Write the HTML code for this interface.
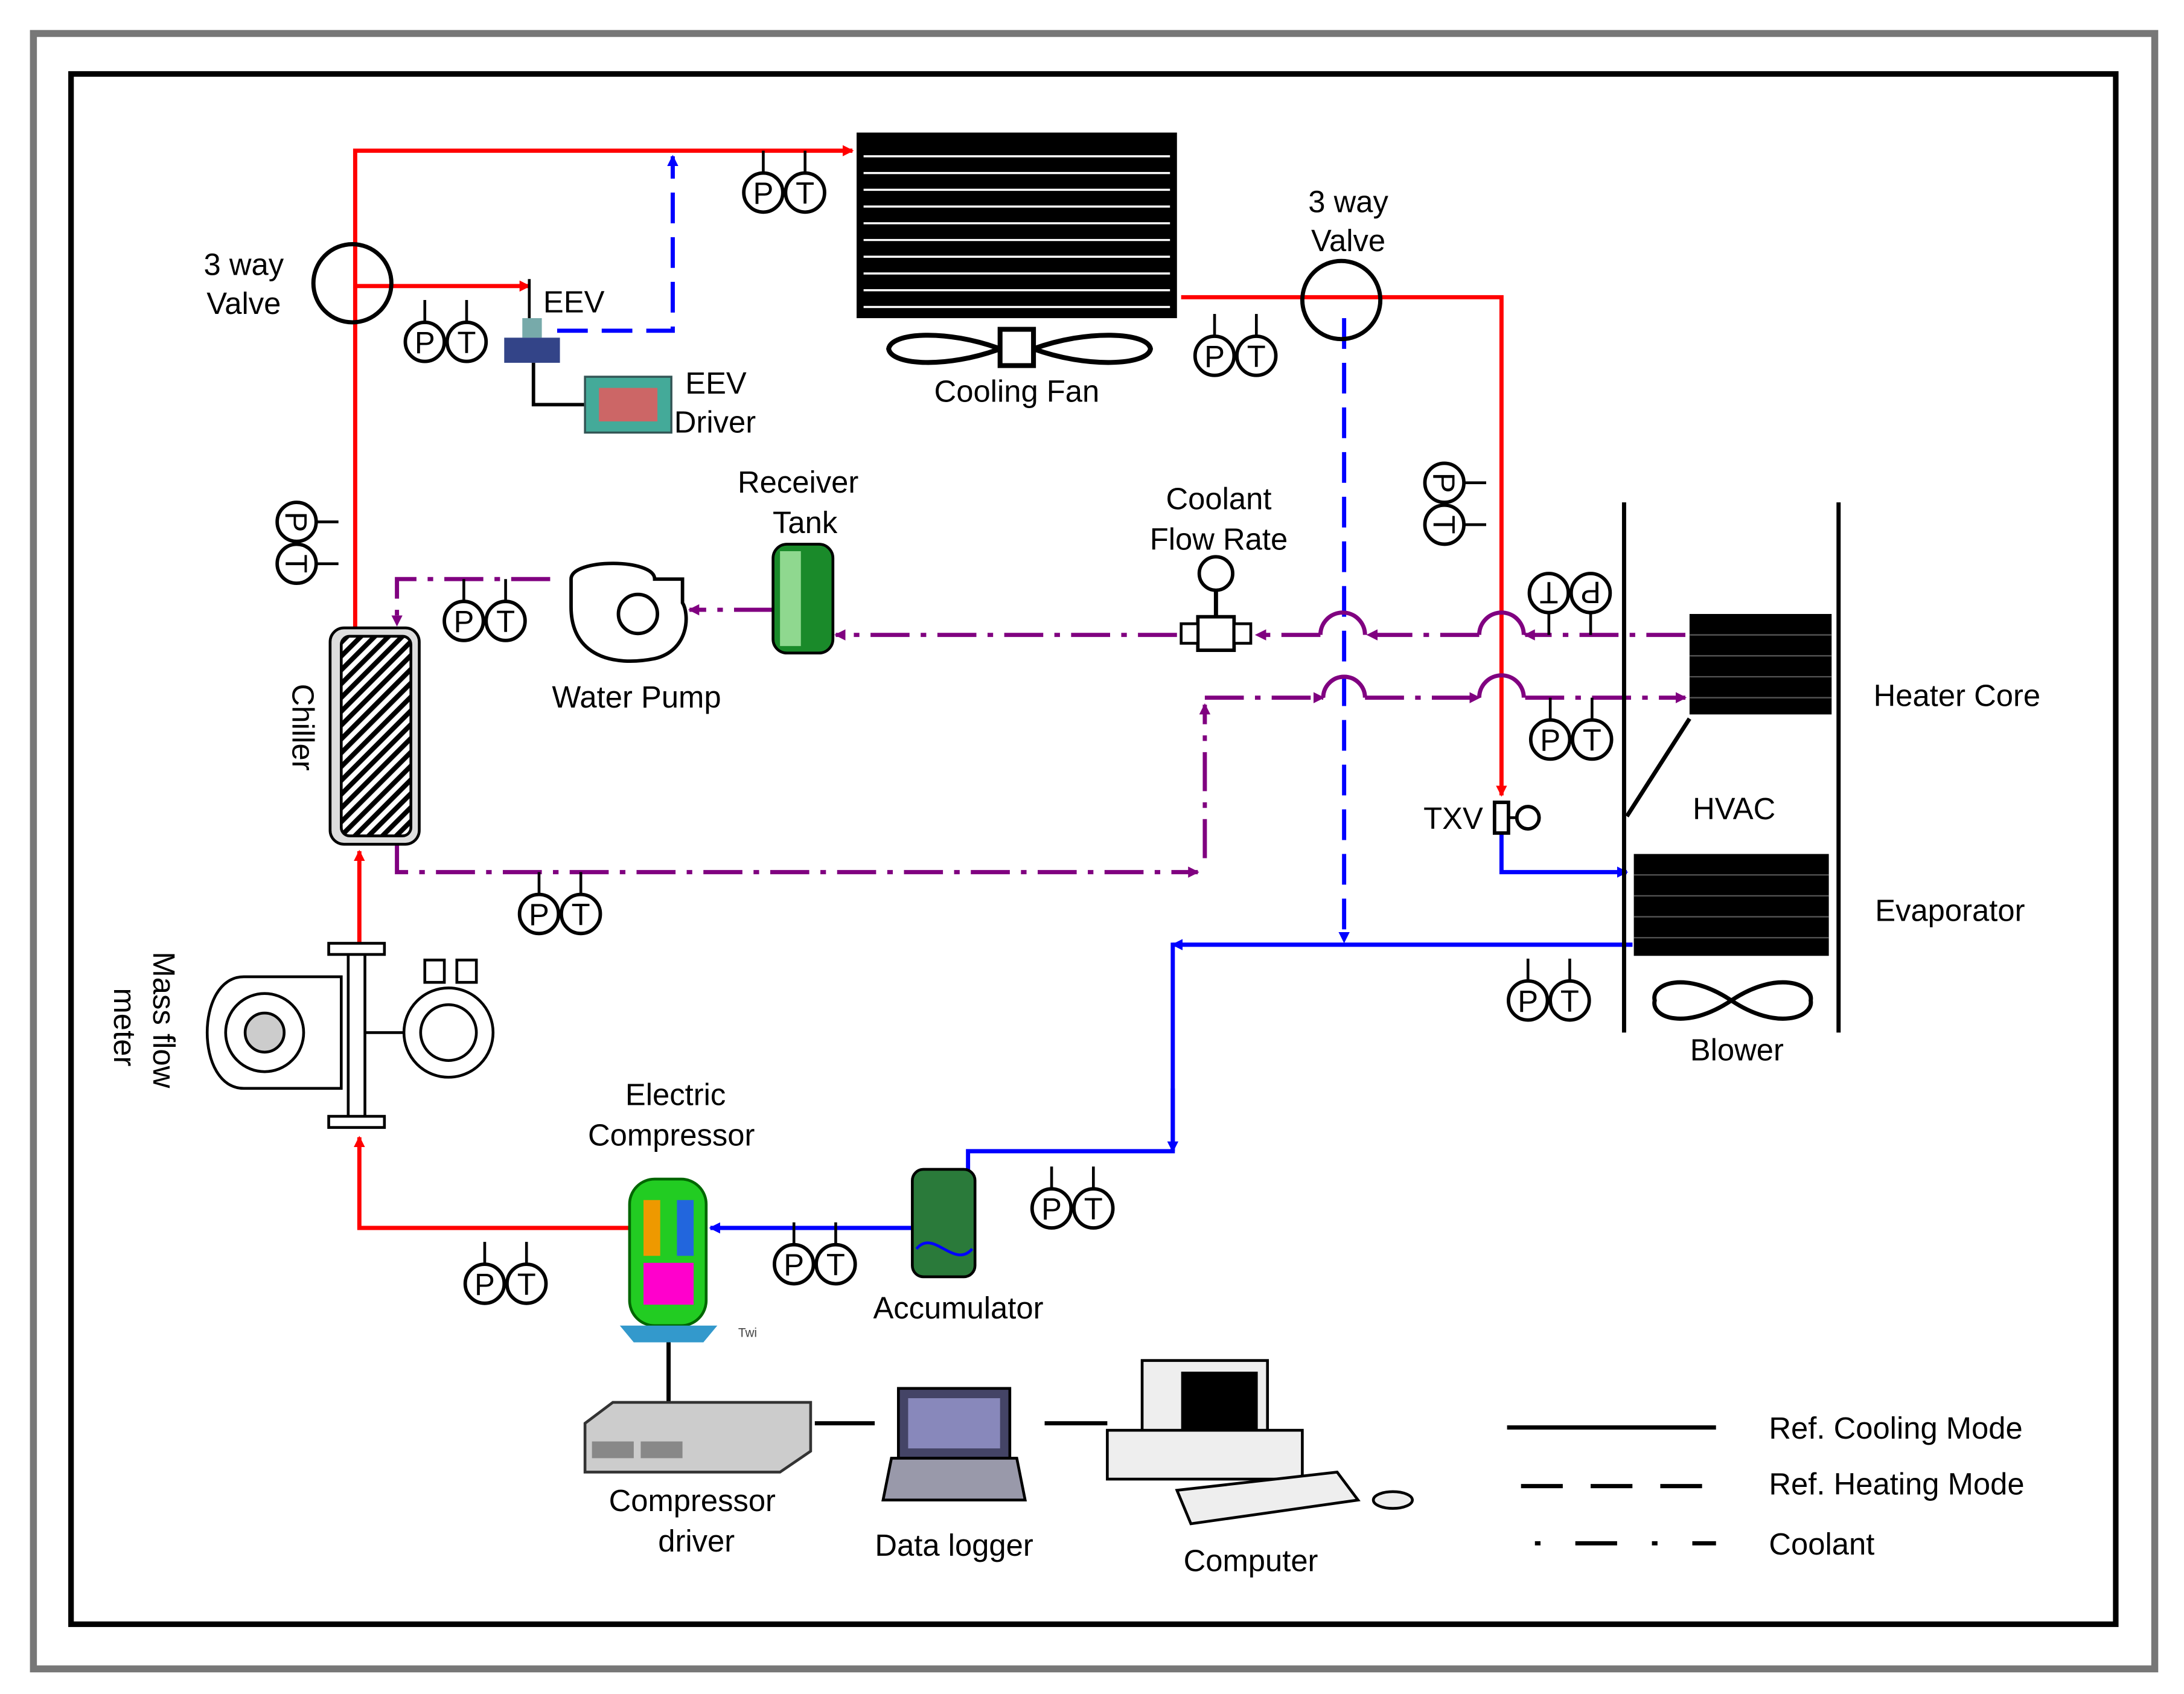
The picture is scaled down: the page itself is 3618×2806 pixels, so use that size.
<!DOCTYPE html>
<html><head><meta charset="utf-8"><style>
html,body{margin:0;padding:0;background:#fff}
svg{display:block}
text{font-family:"Liberation Sans",sans-serif;font-size:22px;fill:#000}
</style></head><body>
<svg width="3618" height="2806" viewBox="0 0 1568 1214" preserveAspectRatio="none" xmlns="http://www.w3.org/2000/svg">
<defs>
<marker id="ar" markerWidth="8" markerHeight="8" refX="7" refY="4" orient="auto" markerUnits="userSpaceOnUse"><path d="M0,0 L8,4 L0,8z" fill="#f00"/></marker>
<marker id="ab" markerWidth="8" markerHeight="8" refX="7" refY="4" orient="auto" markerUnits="userSpaceOnUse"><path d="M0,0 L8,4 L0,8z" fill="#00f"/></marker>
<marker id="ap" markerWidth="8" markerHeight="8" refX="7" refY="4" orient="auto" markerUnits="userSpaceOnUse"><path d="M0,0 L8,4 L0,8z" fill="#800080"/></marker>
<g id="pt">
<line x1="0" y1="-30" x2="0" y2="-14" stroke="#000" stroke-width="2"/>
<line x1="30" y1="-30" x2="30" y2="-14" stroke="#000" stroke-width="2"/>
<circle cx="0" cy="0" r="14" fill="#fff" stroke="#000" stroke-width="2.5"/>
<circle cx="30" cy="0" r="14" fill="#fff" stroke="#000" stroke-width="2.5"/>
<text x="0" y="8" text-anchor="middle">P</text>
<text x="30" y="8" text-anchor="middle">T</text>
</g>
<pattern id="hatch" width="7" height="7" patternUnits="userSpaceOnUse" patternTransform="rotate(45)"><rect width="7" height="7" fill="#fff"/><rect width="3.5" height="7" fill="#000"/></pattern>
</defs>
<rect x="0" y="0" width="1568" height="1214" fill="#fff"/>
<rect x="24" y="24" width="1523" height="1172" fill="none" stroke="#777" stroke-width="5"/>
<rect x="51" y="53" width="1468" height="1111" fill="none" stroke="#000" stroke-width="4"/>

<g stroke="#f00" stroke-width="3" fill="none">
<polyline points="255,450 255,108 612,108" marker-end="url(#ar)"/>
<line x1="255" y1="205" x2="380" y2="205" marker-end="url(#ar)"/>
<polyline points="848,213 1078,213 1078,570" marker-end="url(#ar)"/>
<line x1="258" y1="680" x2="258" y2="610" marker-end="url(#ar)"/>
<polyline points="452,880 258,880 258,815" marker-end="url(#ar)"/>
</g>
<g stroke="#00f" stroke-width="3" fill="none">
<polyline points="1078,598 1078,625 1168,625" marker-end="url(#ab)"/>
<polyline points="1172,677 842,677 842,825 695,825 695,840"/>
<line x1="1172" y1="677" x2="842" y2="677" marker-end="url(#ab)"/>
<line x1="842" y1="780" x2="842" y2="825" marker-end="url(#ab)"/>
<line x1="655" y1="880" x2="510" y2="880" marker-end="url(#ab)"/>
</g>
<g stroke="#00f" stroke-width="3" fill="none" stroke-dasharray="22,10">
<polyline points="400,237 483,237 483,112" marker-end="url(#ab)"/>
<line x1="965" y1="228" x2="965" y2="675" marker-end="url(#ab)"/>
</g>
<g stroke="#800080" stroke-width="3" fill="none" stroke-dasharray="28,8,4,8">
<line x1="1210" y1="455" x2="1095" y2="455" marker-end="url(#ap)"/>
<line x1="1062" y1="455" x2="982" y2="455" marker-end="url(#ap)"/>
<line x1="948" y1="455" x2="902" y2="455" marker-end="url(#ap)"/>
<line x1="845" y1="455" x2="600" y2="455" marker-end="url(#ap)"/>
<line x1="555" y1="437" x2="495" y2="437" marker-end="url(#ap)"/>
<polyline points="395,415 285,415 285,448" marker-end="url(#ap)"/>
<polyline points="285,605 285,625 860,625" marker-end="url(#ap)"/>
<line x1="865" y1="615" x2="865" y2="505" marker-end="url(#ap)"/>
<line x1="865" y1="500" x2="950" y2="500" marker-end="url(#ap)"/>
<line x1="980" y1="500" x2="1062" y2="500" marker-end="url(#ap)"/>
<line x1="1095" y1="500" x2="1210" y2="500" marker-end="url(#ap)"/>
</g>
<g stroke="#800080" stroke-width="3" fill="none">
<path d="M948,455 a16,16 0 0 1 32,0"/><path d="M1062,455 a16,16 0 0 1 32,0"/>
<path d="M950,500 a15,15 0 0 1 30,0"/><path d="M1062,500 a16,16 0 0 1 32,0"/>
</g>

<rect x="615" y="95" width="230" height="133" fill="#000"/>
<g stroke="#fff" stroke-width="1.5">
<line x1="620" y1="112" x2="840" y2="112"/><line x1="620" y1="124" x2="840" y2="124"/><line x1="620" y1="136" x2="840" y2="136"/><line x1="620" y1="148" x2="840" y2="148"/><line x1="620" y1="160" x2="840" y2="160"/><line x1="620" y1="172" x2="840" y2="172"/><line x1="620" y1="184" x2="840" y2="184"/><line x1="620" y1="196" x2="840" y2="196"/><line x1="620" y1="208" x2="840" y2="208"/><line x1="620" y1="220" x2="840" y2="220"/>
</g>
<g fill="#fff" stroke="#000" stroke-width="3.5">
<path d="M718,250 C680,236 640,238 638,250 C640,262 680,264 718,250z"/>
<path d="M742,250 C780,236 824,238 826,250 C824,262 780,264 742,250z"/>
<rect x="718" y="236" width="24" height="26"/>
</g>
<text x="730" y="288" text-anchor="middle">Cooling Fan</text>

<circle cx="253" cy="203" r="28" fill="none" stroke="#000" stroke-width="3"/>
<circle cx="963" cy="215" r="28" fill="none" stroke="#000" stroke-width="3"/>
<text x="175" y="197" text-anchor="middle">3 way</text><text x="175" y="225" text-anchor="middle">Valve</text>
<text x="968" y="152" text-anchor="middle">3 way</text><text x="968" y="180" text-anchor="middle">Valve</text>

<rect x="375" y="228" width="14" height="14" fill="#7aa"/>
<rect x="362" y="242" width="40" height="18" fill="#334488"/>
<polyline points="383,260 383,290 420,290" fill="none" stroke="#000" stroke-width="2.5"/>
<line x1="380" y1="200" x2="380" y2="228" stroke="#000" stroke-width="2"/>
<text x="390" y="224">EEV</text>
<rect x="420" y="270" width="62" height="40" fill="#4a9" stroke="#355" stroke-width="1.5"/>
<rect x="430" y="278" width="42" height="24" fill="#c66"/>
<text x="492" y="282">EEV</text><text x="484" y="310">Driver</text>

<rect x="237" y="450" width="64" height="155" rx="10" fill="#ddd" stroke="#000" stroke-width="2"/>
<rect x="245" y="456" width="50" height="143" rx="6" fill="url(#hatch)" stroke="#000" stroke-width="2"/>
<text transform="translate(210,490) rotate(90)">Chiller</text>

<path d="M470,415 C470,400 410,400 410,415 L410,435 C410,470 440,478 470,472 C495,466 495,440 490,432 L490,415z" fill="#fff" stroke="#000" stroke-width="2.5"/>
<circle cx="458" cy="440" r="14" fill="#fff" stroke="#000" stroke-width="2.5"/>
<text x="457" y="507" text-anchor="middle">Water Pump</text>

<rect x="555" y="390" width="43" height="78" rx="10" fill="#1a8a2a" stroke="#000" stroke-width="2"/>
<rect x="560" y="395" width="15" height="68" fill="#8fd88f"/>
<text x="573" y="353" text-anchor="middle">Receiver</text><text x="578" y="382" text-anchor="middle">Tank</text>

<circle cx="873" cy="411" r="12" fill="#fff" stroke="#000" stroke-width="2.5"/>
<line x1="873" y1="423" x2="873" y2="442" stroke="#000" stroke-width="3"/>
<rect x="860" y="442" width="26" height="24" fill="#fff" stroke="#000" stroke-width="2.5"/>
<rect x="848" y="447" width="12" height="14" fill="#fff" stroke="#000" stroke-width="2"/>
<rect x="886" y="447" width="12" height="14" fill="#fff" stroke="#000" stroke-width="2"/>
<text x="875" y="365" text-anchor="middle">Coolant</text><text x="875" y="394" text-anchor="middle">Flow Rate</text>

<line x1="1166" y1="360" x2="1166" y2="740" stroke="#000" stroke-width="3"/>
<line x1="1320" y1="360" x2="1320" y2="740" stroke="#000" stroke-width="3"/>
<rect x="1213" y="440" width="102" height="72" fill="#000"/>
<rect x="1173" y="612" width="140" height="73" fill="#000"/>
<g stroke="#555" stroke-width="1"><line x1="1213" y1="455" x2="1315" y2="455"/><line x1="1213" y1="470" x2="1315" y2="470"/><line x1="1213" y1="485" x2="1315" y2="485"/><line x1="1213" y1="500" x2="1315" y2="500"/><line x1="1173" y1="627" x2="1313" y2="627"/><line x1="1173" y1="642" x2="1313" y2="642"/><line x1="1173" y1="657" x2="1313" y2="657"/><line x1="1173" y1="672" x2="1313" y2="672"/></g>
<line x1="1168" y1="585" x2="1213" y2="515" stroke="#000" stroke-width="3"/>
<path d="M1243,717 C1210,695 1185,705 1188,717 C1185,729 1210,739 1243,717 C1276,695 1302,705 1300,717 C1302,729 1276,739 1243,717z" fill="#fff" stroke="#000" stroke-width="3"/>
<text x="1405" y="506" text-anchor="middle">Heater Core</text>
<text x="1245" y="587" text-anchor="middle">HVAC</text>
<text x="1400" y="660" text-anchor="middle">Evaporator</text>
<text x="1247" y="760" text-anchor="middle">Blower</text>

<rect x="1073" y="575" width="10" height="22" fill="#fff" stroke="#000" stroke-width="2.5"/>
<circle cx="1097" cy="586" r="8" fill="#fff" stroke="#000" stroke-width="2.5"/>
<line x1="1083" y1="586" x2="1090" y2="586" stroke="#000" stroke-width="2"/>
<text x="1022" y="594">TXV</text>

<path d="M175,700 L245,700 L245,780 L175,780 C140,780 140,700 175,700z" fill="#fff" stroke="#000" stroke-width="2"/>
<circle cx="190" cy="740" r="28" fill="#fff" stroke="#000" stroke-width="2"/>
<circle cx="190" cy="740" r="14" fill="#ccc" stroke="#000" stroke-width="2"/>
<rect x="250" y="680" width="12" height="125" fill="#fff" stroke="#000" stroke-width="2"/>
<rect x="236" y="676" width="40" height="8" fill="#fff" stroke="#000" stroke-width="2"/>
<rect x="236" y="800" width="40" height="8" fill="#fff" stroke="#000" stroke-width="2"/>
<circle cx="322" cy="740" r="32" fill="#fff" stroke="#000" stroke-width="2"/>
<circle cx="322" cy="740" r="20" fill="#fff" stroke="#000" stroke-width="2"/>
<rect x="305" y="688" width="14" height="16" fill="#fff" stroke="#000" stroke-width="2"/>
<rect x="328" y="688" width="14" height="16" fill="#fff" stroke="#000" stroke-width="2"/>
<line x1="262" y1="740" x2="290" y2="740" stroke="#000" stroke-width="2"/>
<text transform="translate(110,682) rotate(90)">Mass flow</text>
<text transform="translate(82,708) rotate(90)">meter</text>

<rect x="452" y="845" width="55" height="105" rx="18" fill="#2c2" stroke="#060" stroke-width="2"/>
<rect x="462" y="860" width="12" height="40" fill="#e90"/><rect x="486" y="860" width="12" height="40" fill="#26d"/>
<rect x="462" y="905" width="36" height="30" fill="#f0c"/>
<path d="M445,950 L515,950 L505,962 L455,962z" fill="#39c"/>
<line x1="480" y1="962" x2="480" y2="1005" stroke="#000" stroke-width="3"/>
<text x="485" y="792" text-anchor="middle">Electric</text><text x="482" y="821" text-anchor="middle">Compressor</text>
<text x="530" y="958" style="font-size:9px;fill:#444">Twi</text>

<rect x="655" y="838" width="45" height="77" rx="8" fill="#2a7a3a" stroke="#000" stroke-width="2"/>
<path d="M658,895 C670,880 685,910 698,895" fill="none" stroke="#00f" stroke-width="2"/>
<text x="688" y="945" text-anchor="middle">Accumulator</text>

<path d="M420,1020 L440,1005 L582,1005 L582,1040 L560,1055 L420,1055z" fill="#ccc" stroke="#333" stroke-width="2"/>
<rect x="425" y="1033" width="30" height="12" fill="#888"/><rect x="460" y="1033" width="30" height="12" fill="#888"/>
<line x1="585" y1="1020" x2="628" y2="1020" stroke="#000" stroke-width="3"/>
<text x="497" y="1083" text-anchor="middle">Compressor</text><text x="500" y="1112" text-anchor="middle">driver</text>
<rect x="645" y="995" width="80" height="50" fill="#446" stroke="#000" stroke-width="2"/>
<rect x="652" y="1002" width="66" height="36" fill="#88b"/>
<path d="M640,1045 L730,1045 L736,1075 L634,1075z" fill="#99a" stroke="#000" stroke-width="2"/>
<line x1="750" y1="1020" x2="795" y2="1020" stroke="#000" stroke-width="3"/>
<text x="685" y="1115" text-anchor="middle">Data logger</text>
<rect x="820" y="975" width="90" height="65" fill="#eee" stroke="#000" stroke-width="2"/>
<rect x="848" y="983" width="55" height="48" fill="#000"/>
<rect x="795" y="1025" width="140" height="35" fill="#eee" stroke="#000" stroke-width="2"/>
<path d="M845,1068 L960,1055 L975,1075 L855,1092z" fill="#eee" stroke="#000" stroke-width="2"/>
<ellipse cx="1000" cy="1075" rx="14" ry="6" fill="#eee" stroke="#000" stroke-width="2"/>
<text x="898" y="1126" text-anchor="middle">Computer</text>

<use href="#pt" x="548" y="138"/>
<use href="#pt" x="305" y="245"/>
<use href="#pt" x="872" y="255"/>
<use href="#pt" x="333" y="445"/>
<use href="#pt" x="1113" y="530"/>
<use href="#pt" x="387" y="655"/>
<use href="#pt" x="1097" y="717"/>
<use href="#pt" x="755" y="866"/>
<use href="#pt" x="570" y="906"/>
<use href="#pt" x="348" y="920"/>
<g transform="translate(1142,425) scale(-1,-1)"><use href="#pt" x="0" y="0"/></g>
<g transform="translate(213,374) rotate(90)"><use href="#pt" x="0" y="0"/></g>
<g transform="translate(1037,346) rotate(90)"><use href="#pt" x="0" y="0"/></g>

<line x1="1082" y1="1023" x2="1232" y2="1023" stroke="#000" stroke-width="3"/>
<line x1="1092" y1="1065" x2="1230" y2="1065" stroke="#000" stroke-width="3" stroke-dasharray="30,20"/>
<line x1="1102" y1="1106" x2="1232" y2="1106" stroke="#000" stroke-width="3" stroke-dasharray="4,25,30,25"/>
<text x="1270" y="1031">Ref. Cooling Mode</text>
<text x="1270" y="1071">Ref. Heating Mode</text>
<text x="1270" y="1114">Coolant</text>
</svg>
</body></html>
